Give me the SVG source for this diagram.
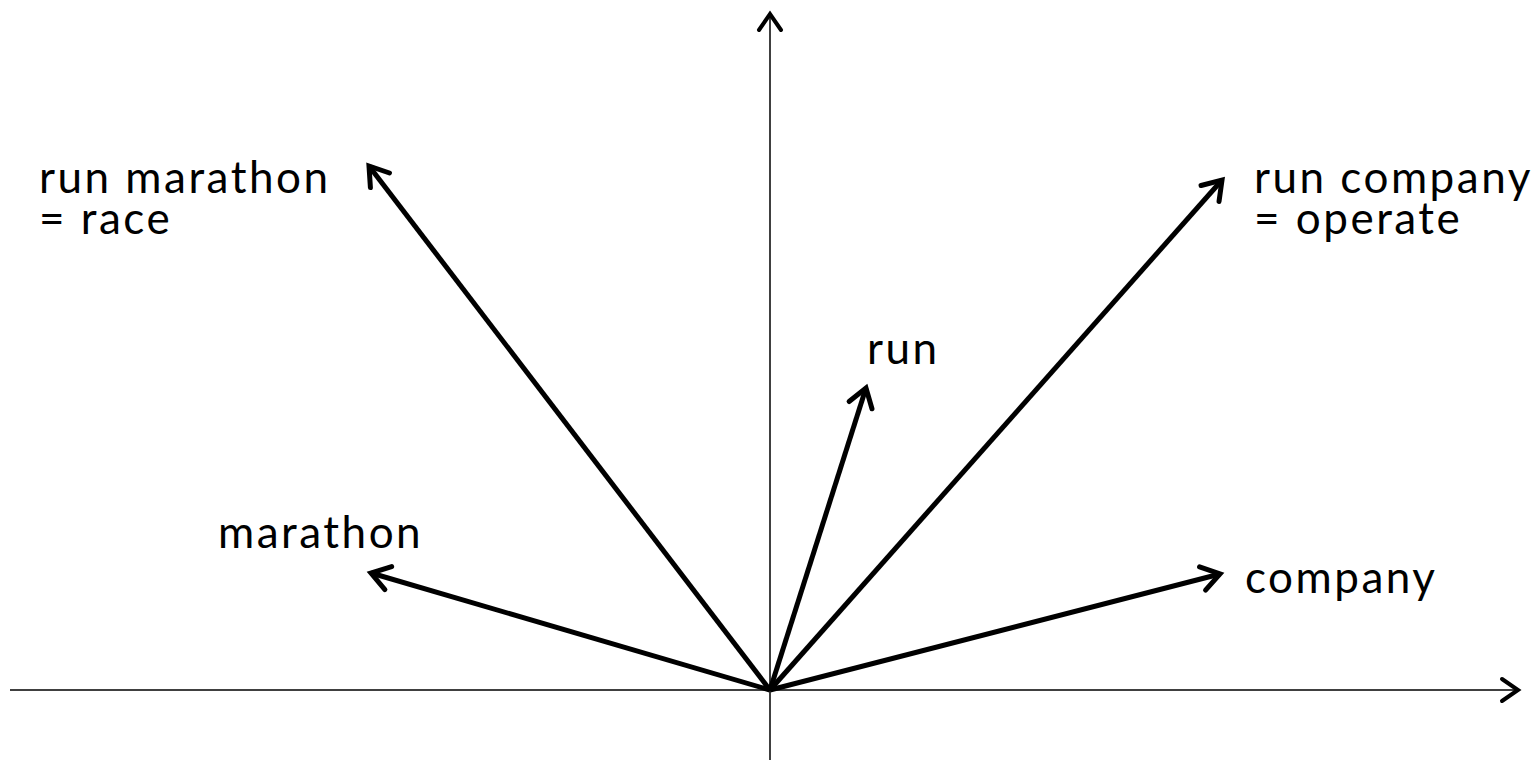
<svg xmlns="http://www.w3.org/2000/svg" width="1539" height="761" viewBox="0 0 1539 761">
<style>
.axis{stroke:#000;stroke-width:1.5;fill:none}
.vec{stroke:#000;stroke-width:5;fill:none}
.lbl{font-family:Lato,"Open Sans",sans-serif;font-size:44px;letter-spacing:2.5px;fill:#000}
</style>
<defs>
<marker id="ah" markerUnits="userSpaceOnUse" viewBox="-24 -16 30 32" markerWidth="30" markerHeight="32" refX="0" refY="0" orient="auto">
<path d="M-18,-12 L0,0 L-18,12" fill="none" stroke="#000" stroke-width="5" stroke-linecap="round" stroke-linejoin="miter"/>
</marker>
<marker id="ahx" markerUnits="userSpaceOnUse" viewBox="-24 -16 30 32" markerWidth="30" markerHeight="32" refX="0" refY="0" orient="auto">
<path d="M-16,-11 L0,0 L-16,11" fill="none" stroke="#000" stroke-width="4" stroke-linecap="round" stroke-linejoin="miter"/>
</marker>
</defs>
<g id="connectors">
<line class="axis" x1="10" y1="690" x2="1518" y2="690" marker-end="url(#ahx)"/>
<line class="axis" x1="770" y1="760" x2="770" y2="14" marker-end="url(#ahx)"/>
<line class="vec" x1="770" y1="690" x2="369" y2="166" marker-end="url(#ah)"/>
<line class="vec" x1="770" y1="690" x2="1222" y2="180" marker-end="url(#ah)"/>
<line class="vec" x1="770" y1="690" x2="866" y2="388" marker-end="url(#ah)"/>
<line class="vec" x1="770" y1="690" x2="371" y2="573" marker-end="url(#ah)"/>
<line class="vec" x1="770" y1="690" x2="1220" y2="574" marker-end="url(#ah)"/>
</g>
<g id="run-marathon"><text class="lbl" x="39" y="193">run marathon</text><text class="lbl" x="39" y="234">= race</text></g>
<g id="run-company"><text class="lbl" x="1254" y="193">run company</text><text class="lbl" x="1254" y="234">= operate</text></g>
<g id="run"><text class="lbl" x="867" y="364">run</text></g>
<g id="marathon"><text class="lbl" x="218" y="548">marathon</text></g>
<g id="company"><text class="lbl" x="1245" y="593">company</text></g>
</svg>
